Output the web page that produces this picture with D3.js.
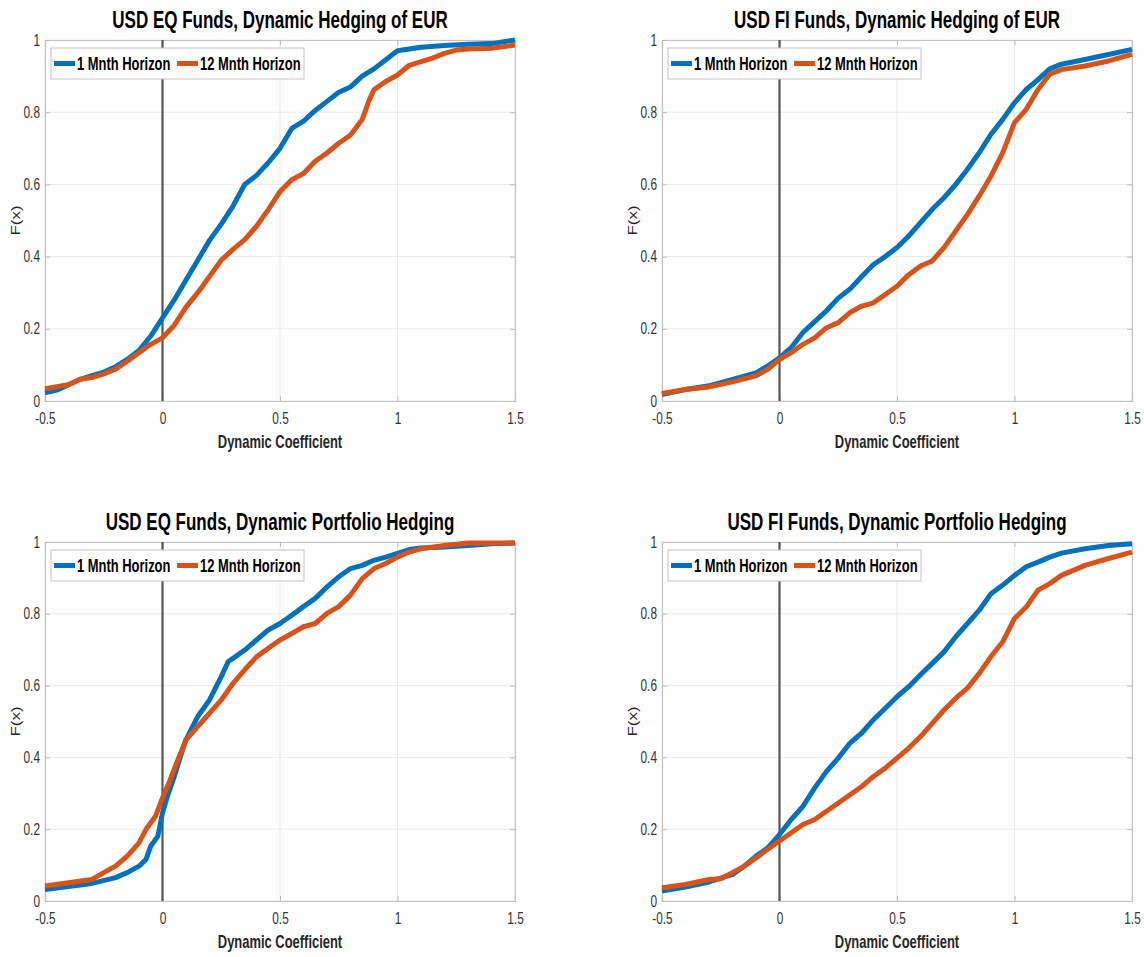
<!DOCTYPE html>
<html>
<head>
<meta charset="utf-8">
<script src="https://cdn.jsdelivr.net/npm/d3@7"></script>
<style>
  body { margin: 0; background: #fff; }
  svg text { font-family: "Liberation Sans", Arial, Helvetica, sans-serif; }
</style>
</head>
<body>
<div id="target"></div>
<script>
var WIDTH = 1144, HEIGHT = 957;
var SQUEEZE = 0.74; // the figure's text is narrow, like a squeezed Arial

var seriesNames = ["1 Mnth Horizon", "12 Mnth Horizon"];
var seriesColors = ["#0072BD", "#D95319"];
var xTicks = [-0.5, 0, 0.5, 1, 1.5];
var yTicks = [0, 0.2, 0.4, 0.6, 0.8, 1];
var xTickLabels = ["-0.5", "0", "0.5", "1", "1.5"];
var yTickLabels = ["0", "0.2", "0.4", "0.6", "0.8", "1"];

var titles = [
  "USD EQ Funds, Dynamic Hedging of EUR",
  "USD FI Funds, Dynamic Hedging of EUR",
  "USD EQ Funds, Dynamic Portfolio Hedging",
  "USD FI Funds, Dynamic Portfolio Hedging"
];

// [coefficient, F(x)]
var eqEur1 = [[-0.5,0.023],[-0.45,0.03],[-0.4,0.045],[-0.35,0.06],[-0.3,0.07],[-0.25,0.08],[-0.2,0.095],[-0.15,0.115],[-0.1,0.14],[-0.05,0.18],[0,0.23],[0.05,0.28],[0.1,0.335],[0.15,0.39],[0.2,0.445],[0.25,0.49],[0.3,0.54],[0.35,0.6],[0.4,0.625],[0.45,0.66],[0.5,0.7],[0.55,0.755],[0.6,0.775],[0.65,0.805],[0.7,0.83],[0.75,0.855],[0.8,0.87],[0.85,0.9],[0.9,0.92],[0.95,0.945],[1.0,0.97],[1.05,0.975],[1.1,0.98],[1.2,0.985],[1.3,0.988],[1.4,0.99],[1.5,1.0]];
var eqEur12 = [[-0.5,0.034],[-0.4,0.045],[-0.35,0.06],[-0.3,0.065],[-0.25,0.075],[-0.2,0.088],[-0.15,0.11],[-0.1,0.134],[-0.05,0.157],[0,0.175],[0.05,0.21],[0.1,0.26],[0.15,0.3],[0.2,0.345],[0.25,0.39],[0.3,0.42],[0.35,0.447],[0.4,0.484],[0.45,0.53],[0.5,0.58],[0.55,0.613],[0.6,0.63],[0.65,0.664],[0.7,0.687],[0.75,0.714],[0.8,0.737],[0.85,0.78],[0.88,0.834],[0.9,0.862],[0.95,0.885],[1.0,0.903],[1.05,0.93],[1.1,0.94],[1.15,0.95],[1.2,0.963],[1.25,0.972],[1.3,0.975],[1.4,0.977],[1.5,0.986]];

var fiEur1 = [[-0.5,0.018],[-0.4,0.032],[-0.3,0.042],[-0.2,0.06],[-0.1,0.078],[-0.05,0.097],[0,0.12],[0.05,0.148],[0.1,0.19],[0.15,0.22],[0.2,0.25],[0.25,0.285],[0.3,0.31],[0.35,0.345],[0.4,0.378],[0.45,0.4],[0.5,0.425],[0.55,0.457],[0.6,0.494],[0.65,0.531],[0.7,0.563],[0.75,0.6],[0.8,0.642],[0.85,0.688],[0.9,0.739],[0.95,0.78],[1.0,0.826],[1.05,0.863],[1.1,0.89],[1.15,0.92],[1.2,0.933],[1.3,0.946],[1.4,0.96],[1.5,0.974]];
var fiEur12 = [[-0.5,0.021],[-0.4,0.032],[-0.3,0.039],[-0.2,0.053],[-0.1,0.07],[-0.05,0.088],[0,0.115],[0.05,0.134],[0.1,0.157],[0.15,0.175],[0.2,0.203],[0.25,0.217],[0.3,0.245],[0.35,0.263],[0.4,0.272],[0.45,0.295],[0.5,0.318],[0.55,0.35],[0.6,0.374],[0.65,0.388],[0.7,0.425],[0.75,0.471],[0.8,0.517],[0.85,0.568],[0.9,0.623],[0.95,0.688],[1.0,0.771],[1.05,0.808],[1.1,0.863],[1.15,0.905],[1.2,0.918],[1.3,0.928],[1.4,0.942],[1.5,0.96]];

var eqPort1 = [[-0.5,0.032],[-0.4,0.04],[-0.3,0.049],[-0.2,0.065],[-0.15,0.079],[-0.1,0.097],[-0.07,0.116],[-0.05,0.153],[-0.02,0.18],[0,0.245],[0.02,0.29],[0.05,0.347],[0.08,0.41],[0.1,0.449],[0.15,0.514],[0.2,0.56],[0.25,0.625],[0.28,0.667],[0.3,0.676],[0.35,0.699],[0.4,0.727],[0.45,0.755],[0.5,0.773],[0.55,0.796],[0.6,0.82],[0.65,0.843],[0.7,0.875],[0.75,0.903],[0.8,0.926],[0.85,0.935],[0.9,0.949],[0.95,0.958],[1.0,0.968],[1.05,0.979],[1.1,0.983],[1.2,0.986],[1.3,0.99],[1.4,0.995],[1.5,0.997]];
var eqPort12 = [[-0.5,0.042],[-0.4,0.051],[-0.3,0.06],[-0.25,0.079],[-0.2,0.097],[-0.15,0.125],[-0.1,0.162],[-0.07,0.2],[-0.03,0.236],[0,0.287],[0.03,0.333],[0.06,0.384],[0.1,0.449],[0.15,0.486],[0.2,0.523],[0.25,0.56],[0.3,0.606],[0.35,0.644],[0.4,0.68],[0.45,0.704],[0.5,0.727],[0.55,0.745],[0.6,0.764],[0.65,0.773],[0.7,0.801],[0.75,0.82],[0.8,0.852],[0.85,0.898],[0.9,0.926],[0.95,0.94],[1.0,0.958],[1.05,0.972],[1.1,0.981],[1.2,0.99],[1.3,0.997],[1.5,0.997]];

var fiPort1 = [[-0.5,0.028],[-0.4,0.039],[-0.3,0.053],[-0.2,0.074],[-0.15,0.097],[-0.1,0.125],[-0.05,0.148],[0,0.185],[0.05,0.227],[0.1,0.264],[0.15,0.315],[0.2,0.361],[0.25,0.398],[0.3,0.44],[0.35,0.468],[0.4,0.505],[0.45,0.537],[0.5,0.569],[0.55,0.597],[0.6,0.63],[0.65,0.662],[0.7,0.694],[0.75,0.736],[0.8,0.773],[0.85,0.81],[0.9,0.856],[0.95,0.88],[1.0,0.907],[1.05,0.931],[1.1,0.944],[1.15,0.958],[1.2,0.969],[1.3,0.981],[1.4,0.99],[1.5,0.995]];
var fiPort12 = [[-0.5,0.037],[-0.4,0.046],[-0.3,0.06],[-0.25,0.062],[-0.2,0.079],[-0.15,0.097],[-0.1,0.12],[-0.05,0.144],[0,0.167],[0.05,0.19],[0.1,0.213],[0.15,0.227],[0.2,0.25],[0.25,0.273],[0.3,0.296],[0.35,0.319],[0.4,0.347],[0.45,0.37],[0.5,0.398],[0.55,0.426],[0.6,0.458],[0.65,0.495],[0.7,0.532],[0.75,0.565],[0.8,0.593],[0.85,0.634],[0.9,0.681],[0.95,0.722],[1.0,0.787],[1.05,0.819],[1.1,0.866],[1.15,0.884],[1.2,0.907],[1.3,0.935],[1.4,0.954],[1.5,0.972]];

var panelSeries = [[eqEur1, eqEur12], [fiEur1, fiEur12], [eqPort1, eqPort12], [fiPort1, fiPort12]];

// plot boxes (left, top, right, bottom)
var boxes = [
  [45, 40, 515, 401],
  [662, 40, 1132, 401],
  [45, 542, 515, 901],
  [662, 542, 1132, 901]
];

var svg = d3.select("#target").append("svg").attr("width", WIDTH).attr("height", HEIGHT);

// narrow text placed at (x, y)
var narrowText = function(parent, x, y, extra) {
  return parent.append("text")
    .attr("transform", "translate(" + x + "," + y + ") scale(" + SQUEEZE + ",1)" + (extra || ""));
};

boxes.forEach(function(b, i) {
  var x = d3.scaleLinear().domain([-0.5, 1.5]).range([b[0], b[2]]);
  var y = d3.scaleLinear().domain([0, 1]).range([b[3], b[1]]);
  var g = svg.append("g");

  // grid
  g.selectAll(".gx").data(xTicks).enter().append("line")
    .attr("x1", function(d) { return x(d); }).attr("x2", function(d) { return x(d); })
    .attr("y1", b[1]).attr("y2", b[3])
    .attr("stroke", "#ebebeb").attr("stroke-width", 1);
  g.selectAll(".gy").data(yTicks).enter().append("line")
    .attr("y1", function(d) { return y(d); }).attr("y2", function(d) { return y(d); })
    .attr("x1", b[0]).attr("x2", b[2])
    .attr("stroke", "#ebebeb").attr("stroke-width", 1);

  // axes with inward ticks
  var axB = g.append("g").attr("transform", "translate(0," + b[3] + ")")
    .call(d3.axisBottom(x).tickValues(xTicks).tickSize(-5).tickPadding(11)
      .tickFormat(function(d, k) { return xTickLabels[k]; }));
  var axT = g.append("g").attr("transform", "translate(0," + b[1] + ")")
    .call(d3.axisTop(x).tickValues(xTicks).tickSize(-5).tickFormat(""));
  var axL = g.append("g").attr("transform", "translate(" + b[0] + ",0)")
    .call(d3.axisLeft(y).tickValues(yTicks).tickSize(-5).tickPadding(0)
      .tickFormat(function(d, k) { return yTickLabels[k]; }));
  var axR = g.append("g").attr("transform", "translate(" + b[2] + ",0)")
    .call(d3.axisRight(y).tickValues(yTicks).tickSize(-5).tickFormat(""));
  [axB, axT, axL, axR].forEach(function(a) {
    a.select(".domain").attr("stroke", "#c4c4c4").attr("stroke-width", 1.2);
    a.selectAll(".tick line").attr("stroke", "#bdbdbd");
    a.selectAll(".tick text").attr("fill", "#333").style("font-size", "16px");
  });
  axB.selectAll(".tick text").attr("y", 0).attr("dy", null)
    .attr("transform", "translate(0,23) scale(" + SQUEEZE + ",1)");
  axL.selectAll(".tick text").attr("x", 0)
    .attr("transform", "translate(-5,0) scale(" + SQUEEZE + ",1)");

  // zero line
  g.append("line")
    .attr("x1", x(0)).attr("x2", x(0)).attr("y1", b[1]).attr("y2", b[3])
    .attr("stroke", "#555").attr("stroke-width", 2.2);

  var line = d3.line()
    .x(function(d) { return x(d[0]); })
    .y(function(d) { return y(d[1]); });

  panelSeries[i].forEach(function(s, k) {
    g.append("path")
      .attr("d", line(s))
      .attr("fill", "none")
      .attr("stroke", seriesColors[k])
      .attr("stroke-width", 5)
      .attr("stroke-linejoin", "round");
  });

  // title and labels
  narrowText(g, (b[0] + b[2]) / 2, b[1] - 12)
    .attr("text-anchor", "middle").attr("font-weight", "bold")
    .style("font-size", "23px").attr("fill", "#000")
    .text(titles[i]);
  narrowText(g, (b[0] + b[2]) / 2, b[3] + 47)
    .attr("text-anchor", "middle").attr("font-weight", "bold")
    .style("font-size", "17.5px").attr("fill", "#262626")
    .text("Dynamic Coefficient");
  g.append("text")
    .attr("transform", "translate(" + (b[0] - 25) + "," + ((b[1] + b[3]) / 2) + ") scale(" + SQUEEZE + ",1) rotate(-90)")
    .attr("text-anchor", "middle")
    .style("font-size", "17px").attr("fill", "#262626")
    .text("F(x)");

  // legend
  var lg = g.append("g").attr("transform", "translate(" + (b[0] + 6) + "," + (b[1] + 8) + ")");
  lg.append("rect").attr("width", 253).attr("height", 31)
    .attr("fill", "#fff").attr("stroke", "#c4c4c4").attr("stroke-width", 1);
  var itemX = [3, 126];
  seriesNames.forEach(function(n, k) {
    lg.append("line")
      .attr("x1", itemX[k]).attr("x2", itemX[k] + 21).attr("y1", 15.5).attr("y2", 15.5)
      .attr("stroke", seriesColors[k]).attr("stroke-width", 5);
    narrowText(lg, itemX[k] + 23, 21.5)
      .attr("font-weight", "bold").style("font-size", "17.5px").attr("fill", "#000")
      .text(n);
  });
});
</script>
</body>
</html>
